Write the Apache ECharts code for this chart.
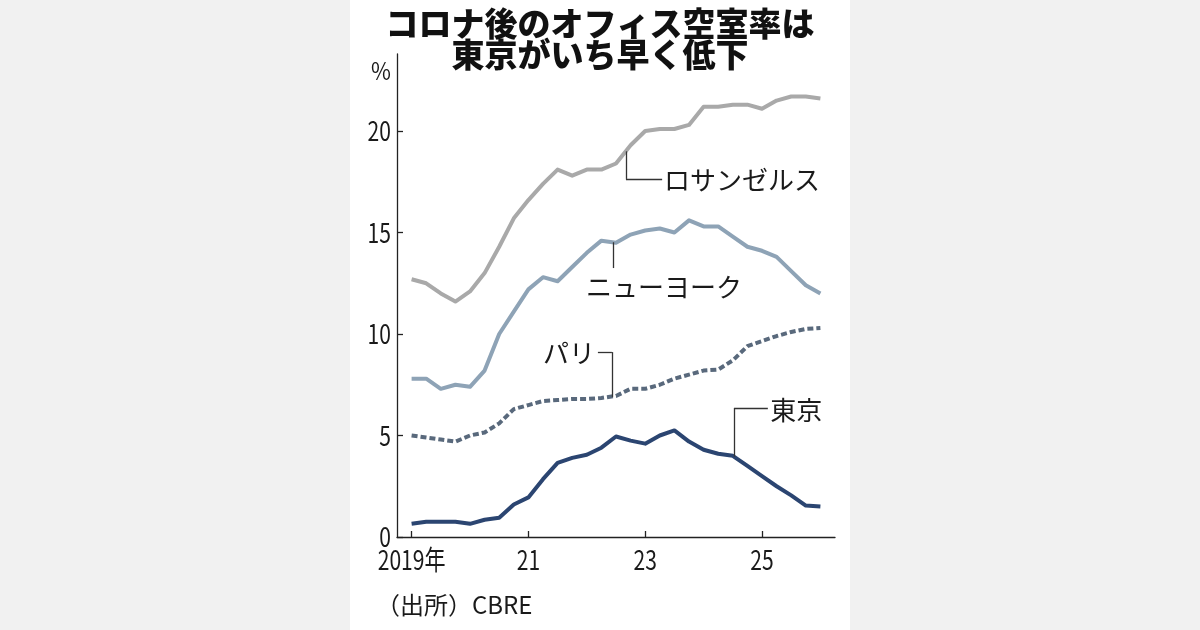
<!DOCTYPE html>
<html lang="ja">
<head>
<meta charset="utf-8">
<script src="https://cdn.jsdelivr.net/npm/echarts@6/dist/echarts.min.js"></script>
<style>
    html, body { margin: 0; padding: 0; width: 1200px; height: 630px; overflow: hidden; background: #f1f1f1; }
    #panel { position: absolute; left: 350px; top: 0; width: 500px; height: 630px; background: #fff; }
    #chart { position: absolute; left: 0; top: 0; width: 1200px; height: 630px; }
</style>
</head>
<body>
<div id="panel"></div>
<div id="chart"></div>
<script>
// quarterly points, 2019 Q1 .. 2026 Q1
const START_YEAR = 2019;
const xTicks = [2019, 2021, 2023, 2025];
const yTicks = [0, 5, 10, 15, 20];

const losAngeles = [12.7, 12.5, 12.0, 11.6, 12.1, 13.0, 14.3, 15.7, 16.6, 17.4, 18.1, 17.8, 18.1, 18.1, 18.4, 19.3, 20.0, 20.1, 20.1, 20.3, 21.2, 21.2, 21.3, 21.3, 21.1, 21.5, 21.7, 21.7, 21.6];
const newYork = [7.8, 7.8, 7.3, 7.5, 7.4, 8.2, 10.0, 11.1, 12.2, 12.8, 12.6, 13.3, 14.0, 14.6, 14.5, 14.9, 15.1, 15.2, 15.0, 15.6, 15.3, 15.3, 14.8, 14.3, 14.1, 13.8, 13.1, 12.4, 12.0];
const paris = [5.0, 4.9, 4.8, 4.7, 5.0, 5.15, 5.6, 6.3, 6.5, 6.7, 6.75, 6.8, 6.8, 6.85, 6.95, 7.3, 7.3, 7.5, 7.8, 8.0, 8.2, 8.25, 8.7, 9.4, 9.65, 9.9, 10.1, 10.25, 10.3];
const tokyo = [0.65, 0.75, 0.75, 0.75, 0.65, 0.85, 0.95, 1.6, 1.95, 2.85, 3.65, 3.9, 4.05, 4.4, 4.95, 4.75, 4.6, 5.0, 5.25, 4.7, 4.3, 4.1, 4.0, 3.5, 3.0, 2.5, 2.05, 1.55, 1.5];

// leader lines as [year, value] corners
const laLeader = [[2022.67, 19.0], [2022.67, 17.64], [2023.29, 17.64]];
const nyLeader = [[2022.45, 14.52], [2022.45, 13.25]];
const parisLeader = [[2022.19, 9.11], [2022.43, 9.11], [2022.43, 6.9]];
const tokyoLeader = [[2025.10, 6.35], [2024.52, 6.35], [2024.52, 3.96]];

// series names next to the leaders: [year, value, align]
const cityLabels = [
    ['ロサンゼルス', 2023.32, 17.59, 'left'],
    ['ニューヨーク', 2023.32, 12.32, 'center'],
    ['パリ', 2022.14, 9.06, 'right'],
    ['東京', 2025.14, 6.26, 'left']
];

const JP = "'Noto Sans CJK JP', sans-serif";
const TICK_FONT = "27px 'Noto Sans CJK JP', sans-serif";
const NARROW = 0.78;   // tick digits in the reference are condensed

const chart = echarts.init(document.getElementById('chart'), null, { renderer: 'canvas' });

function toPoints(values) {
    return values.map((v, i) => [START_YEAR + i * 0.25, v]);
}

function leader(points) {
    const segs = [];
    for (let i = 0; i < points.length - 1; i++) {
        segs.push([{ coord: points[i] }, { coord: points[i + 1] }]);
    }
    return {
        silent: true,
        symbol: ['none', 'none'],
        animation: false,
        label: { show: false },
        lineStyle: { color: '#333', width: 1.3, type: 'solid' },
        emphasis: { disabled: true },
        data: segs
    };
}

function lineSeries(name, values, color, dashed, points) {
    return {
        name,
        type: 'line',
        data: toPoints(values),
        symbol: 'none',
        lineStyle: { color, width: 4, type: dashed ? [6, 3] : 'solid', join: 'round', cap: 'butt' },
        z: 3,
        markLine: leader(points)
    };
}

chart.setOption({
    animation: false,
    title: {
        text: 'コロナ後のオフィス空室率は\n東京がいち早く低下',
        left: 'center',
        top: 3,
        textStyle: { fontFamily: JP, fontSize: 33, fontWeight: 900, lineHeight: 31, color: '#111' }
    },
    grid: { left: 397, right: 365, top: 53.9, bottom: 93 },
    xAxis: {
        type: 'value',
        min: 2018.75,
        max: 2026.25,
        axisLine: { lineStyle: { color: '#222', width: 1.3 } },
        axisTick: { show: true, inside: true, length: 6, customValues: xTicks, lineStyle: { color: '#222', width: 1.3 } },
        axisLabel: { show: false },
        splitLine: { show: false }
    },
    yAxis: {
        type: 'value',
        min: 0,
        max: 23.8,
        axisLine: { show: true, lineStyle: { color: '#222', width: 1.3 } },
        axisTick: { show: true, inside: true, length: 6, customValues: yTicks, lineStyle: { color: '#222', width: 1.3 } },
        axisLabel: { show: false },
        splitLine: { show: false }
    },
    series: [
        lineSeries('ロサンゼルス', losAngeles, '#a9a9a9', false, laLeader),
        lineSeries('ニューヨーク', newYork, '#8ea3b6', false, nyLeader),
        lineSeries('パリ', paris, '#59697c', true, parisLeader),
        lineSeries('東京', tokyo, '#2b4571', false, tokyoLeader)
    ]
});

// --- text placed through the axes (condensed tick labels, city names) ---
function px(year, value) {
    return chart.convertToPixel({ seriesIndex: 0 }, [year, value]);
}

function text(x, y, str, align, vAlign, font, scaleX) {
    return {
        type: 'text',
        x, y,
        scaleX: scaleX || 1,
        silent: true,
        style: { text: str, font, fill: '#1a1a1a', align, verticalAlign: vAlign }
    };
}

const graphics = [];
xTicks.forEach(v => {
    const [x, y] = px(v, 0);
    const str = v === START_YEAR ? v + '年' : String(v).slice(2);
    graphics.push(text(x, y + 9, str, 'center', 'top', TICK_FONT, NARROW));
});
yTicks.forEach(v => {
    const [x, y] = px(2018.75, v);
    graphics.push(text(x - 6, y, String(v), 'right', 'middle', TICK_FONT, NARROW));
});
const [ax, ay] = px(2018.75, 23.8);
graphics.push(text(ax - 6, ay + 17, '%', 'right', 'middle', "24px 'Noto Sans CJK JP', sans-serif", 0.9));

cityLabels.forEach(([str, year, value, align]) => {
    const [x, y] = px(year, value);
    graphics.push(text(x, y, str, align, 'middle', "26px 'Noto Sans CJK JP', sans-serif", 1));
});

graphics.push(text(376, 605, '（出所）CBRE', 'left', 'middle', "24px 'Noto Sans CJK JP', sans-serif", 1));

chart.setOption({ graphic: graphics });
</script>
</body>
</html>
